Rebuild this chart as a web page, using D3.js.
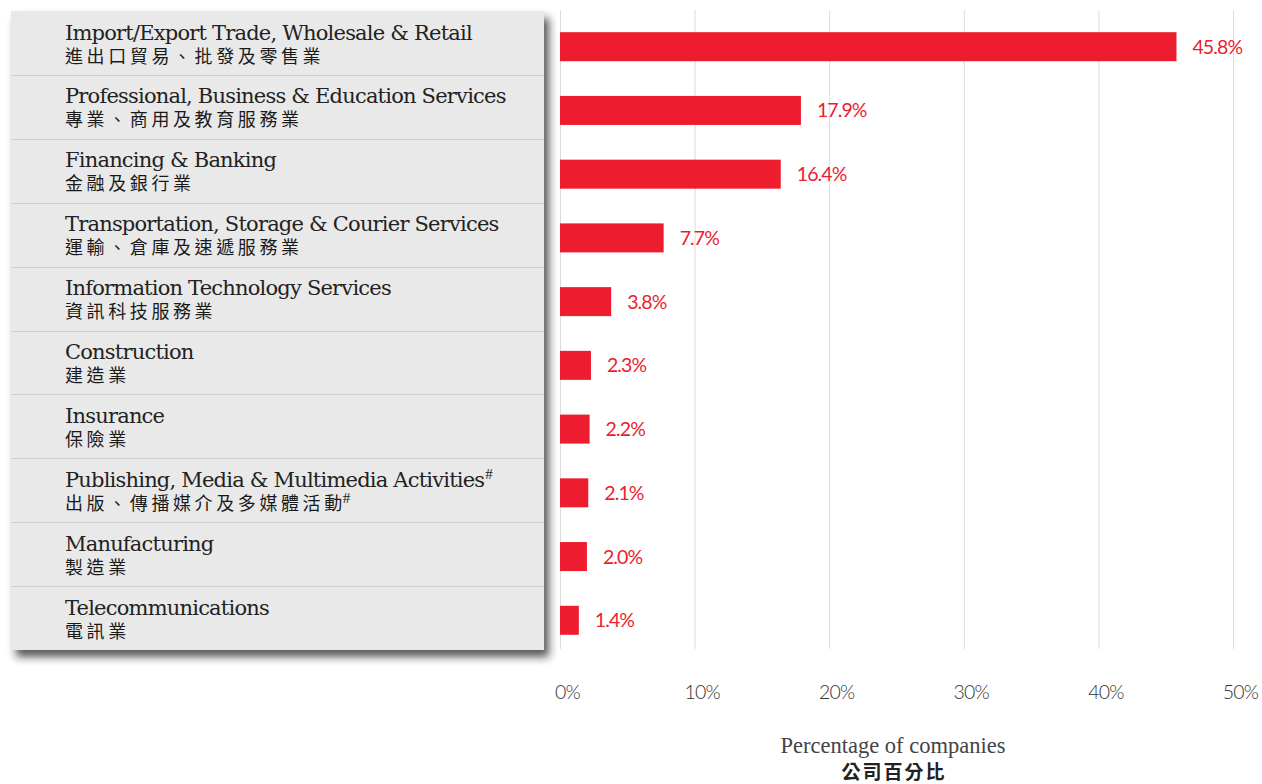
<!DOCTYPE html>
<html><head><meta charset="utf-8">
<script src="https://cdn.jsdelivr.net/npm/d3@7"></script>
<style>
html,body{margin:0;padding:0;background:#fff;}
svg{display:block;}
</style></head>
<body>
<svg id="chart" width="1262" height="784"></svg>
<script>
const categoriesEn = [
  "Import/Export Trade, Wholesale & Retail",
  "Professional, Business & Education Services",
  "Financing & Banking",
  "Transportation, Storage & Courier Services",
  "Information Technology Services",
  "Construction",
  "Insurance",
  "Publishing, Media & Multimedia Activities",
  "Manufacturing",
  "Telecommunications"
];
const categoriesZh = [
  "進出口貿易、批發及零售業",
  "專業、商用及教育服務業",
  "金融及銀行業",
  "運輸、倉庫及速遞服務業",
  "資訊科技服務業",
  "建造業",
  "保險業",
  "出版、傳播媒介及多媒體活動",
  "製造業",
  "電訊業"
];
const footnoteFlags = [false,false,false,false,false,false,false,true,false,false];
const values = [45.8, 17.9, 16.4, 7.7, 3.8, 2.3, 2.2, 2.1, 2.0, 1.4];
const tickValues = [0, 10, 20, 30, 40, 50];
const axisTitleEn = "Percentage of companies";
const axisTitleZh = "公司百分比";

const svg = d3.select("#chart");
const red = "#ed1c2e";

const x = d3.scaleLinear().domain([0, 50]).range([560, 1233]);
const rows = d3.scaleBand().domain(d3.range(values.length)).range([11, 650]);
const bars = d3.scaleBand().domain(d3.range(values.length)).range([15, 652]).paddingInner(0.545).paddingOuter(0.27);

const defs = svg.append("defs");
const f = defs.append("filter").attr("id","sh").attr("x","-5%").attr("y","-5%").attr("width","115%").attr("height","115%");
f.append("feDropShadow").attr("dx",5).attr("dy",7).attr("stdDeviation",4).attr("flood-color","#222").attr("flood-opacity",0.75);

// gridlines
svg.append("g").selectAll("line").data(tickValues).join("line")
  .attr("x1", d => x(d)+0.5).attr("x2", d => x(d)+0.5)
  .attr("y1", 10).attr("y2", 649)
  .attr("stroke", "#dcdcdc").attr("stroke-width", 1);

// panel
svg.append("rect").attr("x", 11).attr("y", 11).attr("width", 533).attr("height", 639)
  .attr("fill", "#e9e9e9").attr("filter", "url(#sh)");

// separators
svg.append("g").selectAll("line").data(d3.range(1, values.length)).join("line")
  .attr("x1", 11).attr("x2", 544)
  .attr("y1", i => Math.round(rows(i))+0.5).attr("y2", i => Math.round(rows(i))+0.5)
  .attr("stroke", "#cfcfcf").attr("stroke-width", 1);

// labels
const lab = svg.append("g").selectAll("g").data(d3.range(values.length)).join("g")
  .attr("transform", i => `translate(65,${rows(i)})`);
const en = lab.append("text").attr("y", 28.5)
  .attr("font-family", "'DejaVu Serif', serif")
  .attr("font-size", 21).attr("letter-spacing", -0.8).attr("fill", "#222");
en.append("tspan").text(i => categoriesEn[i]);
en.filter(i => footnoteFlags[i]).append("tspan").attr("dy", -8).attr("dx", 1).attr("font-size", 15).attr("font-family","'Liberation Serif', serif").text("#");
const zh = lab.append("text").attr("y", 51.5)
  .attr("font-family", "'Noto Sans CJK TC', 'Noto Sans CJK SC', sans-serif")
  .attr("font-size", 18).attr("font-weight", 400).attr("letter-spacing", 3.6).attr("fill", "#1a1a1a");
zh.append("tspan").text(i => categoriesZh[i]);
zh.filter(i => footnoteFlags[i]).append("tspan").attr("dy", -7).attr("dx", -3).attr("font-size", 15).attr("font-family","'Liberation Serif', serif").text("#");

// bars
svg.append("g").selectAll("rect").data(values).join("rect")
  .attr("x", x(0)).attr("y", (d,i) => bars(i))
  .attr("width", d => x(d) - x(0)).attr("height", bars.bandwidth())
  .attr("fill", red);

// value labels
svg.append("g").selectAll("text").data(values).join("text")
  .attr("x", d => x(d) + 16).attr("y", (d,i) => bars(i) + bars.bandwidth()/2)
  .attr("dy", "0.36em")
  .attr("font-family", "Lato, 'Open Sans', sans-serif").attr("font-weight", 400)
  .attr("font-size", 19.5).attr("letter-spacing", -0.9).attr("fill", red)
  .text(d => d.toFixed(1) + "%");

// axis tick labels
const axis = d3.axisBottom(x).tickValues(tickValues).tickFormat(d => d + "%").tickSize(0);
const ag = svg.append("g").attr("transform", "translate(7,682)").call(axis);
ag.select(".domain").remove();
ag.selectAll("text")
  .attr("font-family", "Lato, 'Open Sans', sans-serif").attr("font-weight", 300)
  .attr("font-size", 19.5).attr("letter-spacing", -0.8).attr("fill", "#333");

// axis title
svg.append("text").attr("x", 893).attr("y", 753).attr("text-anchor", "middle")
  .attr("font-family", "'Liberation Serif', serif").attr("font-size", 22.5).attr("letter-spacing", 0)
  .attr("fill", "#444").text(axisTitleEn);
svg.append("text").attr("x", 894).attr("y", 779).attr("text-anchor", "middle")
  .attr("font-family", "'Noto Sans CJK TC', sans-serif").attr("font-size", 19).attr("font-weight", 700)
  .attr("letter-spacing", 2).attr("fill", "#222").text(axisTitleZh);
</script>
</body></html>
